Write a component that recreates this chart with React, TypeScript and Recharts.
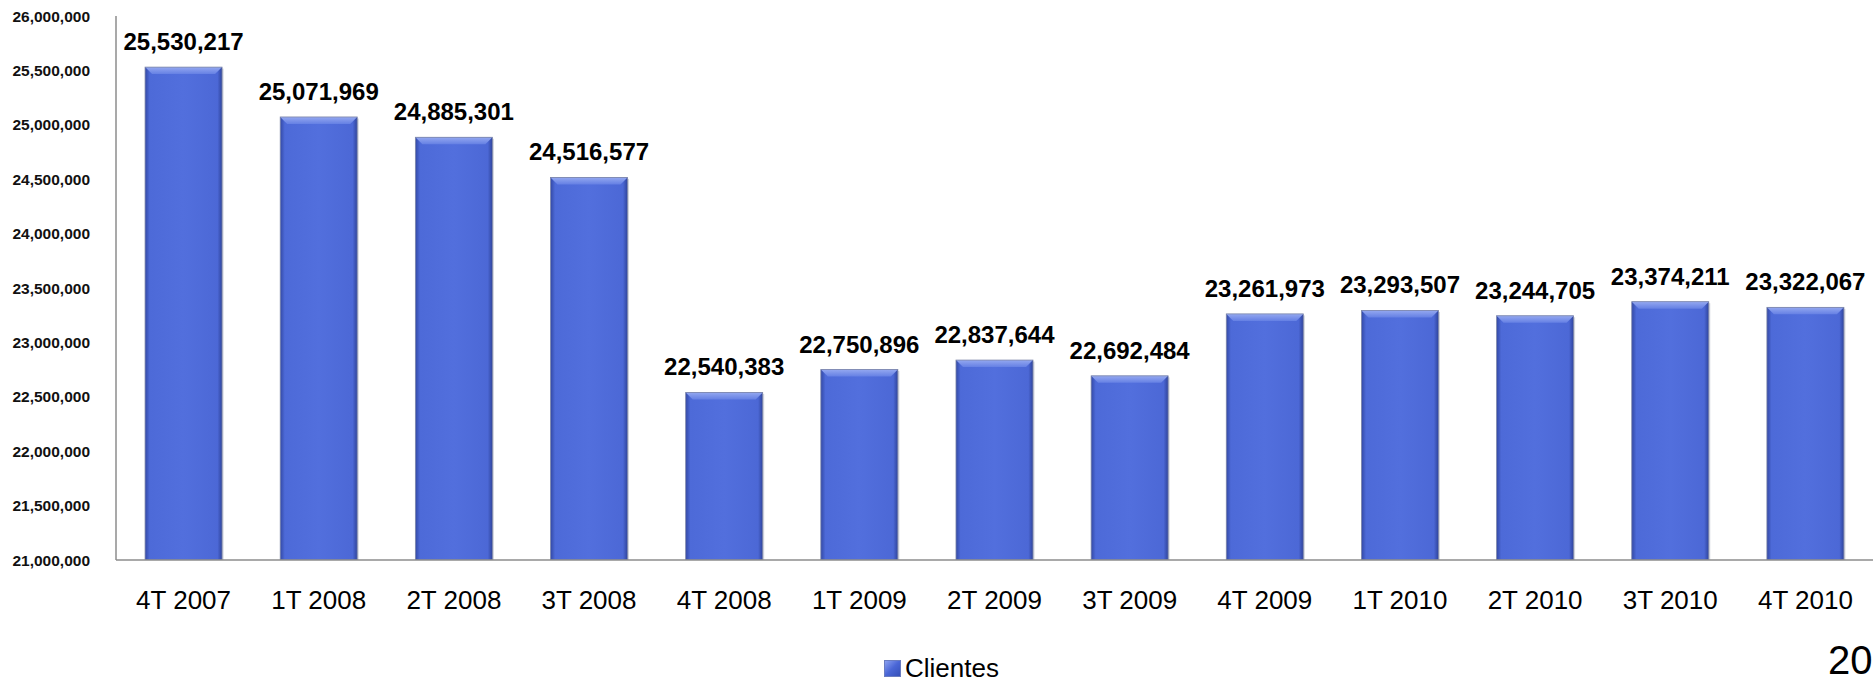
import React from 'react';
import { BarChart, Bar, XAxis, YAxis, Legend, LabelList } from 'recharts';

const quarters = [
  '4T 2007', '1T 2008', '2T 2008', '3T 2008', '4T 2008', '1T 2009', '2T 2009',
  '3T 2009', '4T 2009', '1T 2010', '2T 2010', '3T 2010', '4T 2010',
];

const clientes = [
  25530217, 25071969, 24885301, 24516577, 22540383, 22750896, 22837644,
  22692484, 23261973, 23293507, 23244705, 23374211, 23322067,
];

const yTicks = [
  21000000, 21500000, 22000000, 22500000, 23000000, 23500000,
  24000000, 24500000, 25000000, 25500000, 26000000,
];

const data = quarters.map((q, i) => ({ quarter: q, clientes: clientes[i] }));

const FONT = '"Liberation Sans", Arial, sans-serif';

function formatNumber(value: number): string {
  return value.toLocaleString('en-US');
}

function BevelBar(props: any) {
  const { x, y, width, height } = props;
  if (!width || !height) return null;
  const b = 7;
  return (
    <g>
      <rect x={x + 1.5} y={y + 1.5} width={width} height={height} fill="#9aa0b4" opacity={0.45} />
      <rect x={x} y={y} width={width} height={height} fill="url(#barBody)" />
      <polygon
        points={`${x},${y} ${x + width},${y} ${x + width - b},${y + b} ${x + b},${y + b}`}
        fill="url(#barTop)"
      />
      <rect x={x} y={y} width={width} height={height} fill="none" stroke="#7d86a8" strokeWidth={0.8} />
    </g>
  );
}

function LegendContent() {
  return (
    <div
      style={{
        height: 24,
        display: 'flex',
        alignItems: 'center',
        justifyContent: 'center',
        fontFamily: FONT,
        fontSize: 26,
        color: '#000',
        paddingLeft: 10,
      }}
    >
      <span
        style={{
          display: 'inline-block',
          width: 15,
          height: 15,
          marginRight: 4,
          background: 'linear-gradient(135deg, #8aa0f0, #4a66d6 50%, #3550b8)',
          border: '1px solid #6a7cc0',
        }}
      />
      Clientes
    </div>
  );
}

export default function App() {
  return (
    <div style={{ position: 'absolute', left: 0, top: 0, width: 1874, height: 684, background: '#fff' }}>
      <BarChart
        width={1874}
        height={684}
        data={data}
        margin={{ top: 16, right: 1, left: 0, bottom: 4 }}
        barCategoryGap="21.5%"
      >
        <defs>
          <linearGradient id="barBody" x1="0" y1="0" x2="1" y2="0">
            <stop offset="0%" stopColor="#3349a6" />
            <stop offset="6%" stopColor="#4d6ad8" />
            <stop offset="50%" stopColor="#526fdd" />
            <stop offset="94%" stopColor="#4c68d6" />
            <stop offset="100%" stopColor="#2f449c" />
          </linearGradient>
          <linearGradient id="barTop" x1="0" y1="0" x2="0" y2="1">
            <stop offset="0%" stopColor="#94a8f0" />
            <stop offset="100%" stopColor="#6580e4" />
          </linearGradient>
        </defs>
        <XAxis
          dataKey="quarter"
          height={96}
          tickLine={false}
          tickSize={0}
          tickMargin={31}
          axisLine={{ stroke: '#8c8c8c', strokeWidth: 1.5 }}
          tick={{ fill: '#000', fontSize: 26, fontFamily: FONT }}
          interval={0}
        />
        <YAxis
          width={116}
          domain={[21000000, 26000000]}
          ticks={yTicks}
          tickFormatter={formatNumber}
          tickLine={false}
          tickSize={0}
          tickMargin={26}
          axisLine={{ stroke: '#8c8c8c', strokeWidth: 1.5 }}
          tick={{ fill: '#111', fontSize: 15.5, fontWeight: 'bold', fontFamily: FONT }}
          allowDataOverflow
        />
        <Legend verticalAlign="bottom" height={24} content={<LegendContent />} />
        <Bar dataKey="clientes" name="Clientes" fill="#4f6bd9" shape={<BevelBar />} isAnimationActive={false}>
          <LabelList
            dataKey="clientes"
            position="top"
            offset={17}
            formatter={(v: any) => formatNumber(Number(v))}
            style={{ fill: '#000', fontSize: 24, fontWeight: 'bold', fontFamily: FONT }}
          />
        </Bar>
      </BarChart>
      <div
        style={{
          position: 'absolute',
          left: 1828,
          top: 636,
          fontFamily: FONT,
          fontSize: 40,
          color: '#000',
          lineHeight: '48px',
        }}
      >
        20
      </div>
    </div>
  );
}
